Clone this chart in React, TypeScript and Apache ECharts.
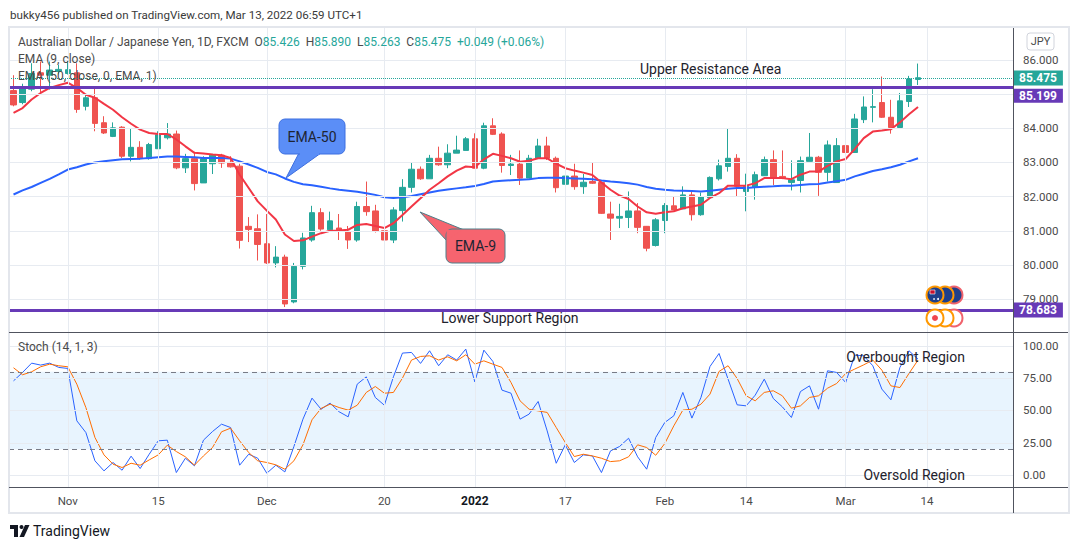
import React, { useEffect, useRef } from "react";
import * as echarts from "echarts";

const FONT = 'Roboto, "Noto Sans", "DejaVu Sans", sans-serif';

// ---------- data ----------
const OPEN = [85.10,84.75,85.14,85.62,85.55,85.66,85.60,85.62,84.64,84.89,84.16,83.76,84.03,83.18,83.44,83.11,83.40,83.72,83.83,82.84,83.11,82.40,82.96,83.21,83.00,82.89,81.13,81.06,80.62,80.06,80.23,78.92,79.96,80.73,81.53,81.03,81.08,80.98,80.73,81.71,81.58,81.00,80.73,81.59,82.27,82.80,82.52,83.12,82.93,83.27,83.35,83.69,82.83,84.07,83.83,82.91,82.95,82.54,83.12,83.48,83.12,82.36,82.60,82.29,82.44,82.41,81.49,81.37,81.39,81.58,81.13,80.57,81.30,81.73,81.64,82.05,81.47,81.97,82.52,82.88,83.12,82.15,82.27,82.61,83.08,82.59,82.41,82.47,83.03,83.15,82.71,82.41,83.49,83.29,84.25,84.61,84.75,84.32,84.02,84.78,85.426];
const HIGH = [85.55,85.30,85.90,85.95,85.95,85.85,85.96,85.90,85.00,85.20,84.35,84.17,84.06,83.99,83.62,83.57,83.91,84.15,83.93,83.25,83.31,83.18,83.25,83.25,83.18,82.96,81.40,81.48,81.49,80.55,80.30,80.06,80.94,81.73,81.66,81.56,81.49,81.14,81.85,82.44,81.76,81.03,81.69,82.51,82.99,82.88,83.22,83.46,83.53,83.78,83.74,83.85,84.16,84.29,83.88,83.22,83.35,83.22,83.69,83.75,83.17,82.63,82.96,82.66,82.99,82.43,81.85,81.79,82.15,81.81,81.14,81.37,81.81,82.00,82.30,82.17,82.12,82.59,83.08,84.00,83.24,82.67,82.73,83.17,83.35,83.35,83.06,83.17,83.86,83.19,83.64,83.71,83.88,84.42,84.93,85.14,85.51,84.83,85.03,85.53,85.890];
const LOW = [84.64,84.70,85.08,85.00,85.13,85.57,85.57,84.45,84.52,83.91,83.83,83.74,83.13,83.03,83.08,83.08,83.40,83.67,82.80,82.69,82.18,82.40,82.66,82.84,82.85,80.48,80.67,80.13,80.03,79.93,78.77,78.88,79.87,80.68,81.00,80.98,80.73,80.47,80.68,81.44,80.95,80.30,80.64,81.27,82.12,82.49,82.52,82.90,82.83,83.27,83.35,82.83,82.80,83.80,82.70,82.63,82.34,82.54,83.12,83.07,82.12,82.31,82.20,82.08,82.37,81.49,80.73,81.08,81.08,80.93,80.40,80.54,80.93,81.60,81.64,81.30,81.44,81.97,82.47,82.73,82.00,81.57,81.91,82.61,82.34,82.51,82.18,82.12,83.03,82.02,82.44,82.41,83.10,83.29,84.15,84.17,84.30,83.84,84.00,84.62,85.263];
const CLOSE = [84.68,85.15,85.60,85.55,85.70,85.72,85.71,84.55,84.89,84.14,83.86,84.01,83.18,83.44,83.11,83.52,83.81,83.83,82.84,83.11,82.38,83.11,83.21,82.98,82.87,80.72,81.04,80.60,80.06,80.23,78.86,79.96,80.79,81.53,81.05,81.29,80.98,80.73,81.71,81.56,80.98,80.73,81.61,82.27,82.80,82.52,83.12,82.93,83.27,83.36,83.69,82.83,84.07,83.82,82.91,82.95,82.54,83.12,83.48,83.12,82.26,82.60,82.29,82.42,82.39,81.51,81.37,81.42,81.58,81.10,80.49,81.32,81.74,81.61,82.05,81.47,82.00,82.56,82.90,83.12,82.30,82.30,82.64,83.08,82.54,82.53,82.49,83.05,83.15,82.71,83.51,83.49,83.29,84.27,84.62,84.63,84.32,84.02,84.80,85.44,85.475];
const EMA9 = [84.45,84.59,84.84,85.03,85.18,85.26,85.33,85.18,84.98,84.89,84.71,84.54,84.32,84.13,83.96,83.86,83.83,83.83,83.67,83.47,83.28,83.26,83.23,83.21,83.13,82.64,82.25,81.86,81.59,81.33,80.89,80.70,80.72,80.83,80.93,81.00,81.01,81.03,81.17,81.20,81.14,81.08,81.22,81.46,81.71,81.95,82.20,82.39,82.59,82.76,82.88,82.86,83.09,83.25,83.19,83.12,83.02,83.05,83.12,83.12,82.96,82.83,82.76,82.70,82.63,82.41,82.20,82.03,81.93,81.71,81.54,81.50,81.54,81.57,81.66,81.71,81.76,81.96,82.10,82.32,82.32,82.32,82.39,82.54,82.54,82.54,82.51,82.64,82.73,82.73,82.90,83.03,83.10,83.39,83.71,83.90,83.93,83.97,84.17,84.41,84.62];
const EMA50 = [82.06,82.18,82.28,82.40,82.52,82.65,82.79,82.86,82.94,83.00,83.03,83.06,83.09,83.10,83.11,83.13,83.15,83.17,83.17,83.16,83.15,83.13,83.13,83.13,83.11,83.03,82.94,82.84,82.72,82.65,82.53,82.43,82.36,82.33,82.29,82.24,82.20,82.17,82.14,82.10,82.05,81.98,81.96,81.98,82.02,82.07,82.12,82.17,82.21,82.24,82.27,82.31,82.37,82.44,82.46,82.48,82.49,82.51,82.54,82.55,82.55,82.54,82.53,82.52,82.51,82.47,82.44,82.42,82.39,82.35,82.28,82.23,82.20,82.18,82.17,82.16,82.15,82.17,82.20,82.23,82.25,82.25,82.27,82.29,82.30,82.32,82.32,82.34,82.36,82.37,82.41,82.45,82.49,82.59,82.67,82.75,82.80,82.86,82.93,83.03,83.12];
const STOCH_K = [73.0,79.5,86.7,85.2,86.7,83.4,82.6,42.0,32.9,11.0,3.2,9.7,3.7,14.6,5.0,16.1,26.5,27.0,1.9,13.0,7.1,27.0,33.7,39.4,36.8,7.6,16.1,13.0,1.4,7.6,2.4,22.1,43.3,59.6,51.0,55.7,49.0,45.1,70.4,76.1,60.1,54.1,76.1,94.5,95.0,86.5,96.3,84.7,93.2,89.1,97.6,72.2,96.8,88.0,65.8,63.4,43.3,47.2,57.0,34.2,9.1,23.4,9.7,15.6,14.8,1.9,18.7,22.1,28.5,14.1,4.5,29.1,40.7,45.9,64.0,44.1,60.1,84.1,94.2,74.3,54.4,53.6,61.9,74.3,59.3,52.8,44.6,64.7,69.1,51.0,80.8,79.5,71.7,92.9,92.4,84.7,66.6,58.3,83.4,96.3,89.8];
const STOCH_D = [83.1,77.7,80.0,83.9,85.9,84.7,83.9,70.4,52.3,29.1,15.6,8.4,5.8,9.1,7.6,11.7,15.6,23.1,18.2,14.1,7.6,14.8,21.3,33.5,36.3,26.5,17.4,11.0,9.7,7.9,4.5,11.0,23.4,42.8,51.6,54.9,52.3,50.3,54.1,64.0,68.6,63.4,64.0,75.1,89.1,91.9,92.4,89.1,91.6,88.5,93.2,85.9,88.5,85.9,83.4,71.7,57.5,51.0,49.7,48.5,36.8,25.2,14.3,16.1,14.8,13.0,10.4,11.0,14.1,23.4,21.3,15.3,24.4,38.1,50.3,51.0,54.9,62.7,80.3,84.7,74.8,61.4,57.5,64.0,65.3,61.4,51.8,53.6,60.1,61.4,67.3,70.9,78.7,82.1,85.4,89.1,81.3,69.1,67.8,78.7,89.1];

const PRICE_TICKS = [79, 80, 81, 82, 83, 84, 85, 86];
const STOCH_TICKS = [0, 25, 50, 75, 100];
const TICK_DATES = ["2021-11-01","2021-11-15","2021-12-01","2021-12-20","2022-01-03","2022-01-17","2022-02-01","2022-02-14","2022-03-01","2022-03-14"];
const TICK_TEXT = ["Nov","15","Dec","20","2022","17","Feb","14","Mar","14"];
const RESISTANCE = 85.199;
const SUPPORT = 78.683;
const LAST_CLOSE = CLOSE[CLOSE.length - 1];
const CHANGE = 0.049;
const CHANGE_PCT = 0.06;
const OB = 80;
const OS = 20;

// weekday dates (trading days) starting 2021-10-22, incl. future slots
function buildDates(n: number): string[] {
  const out: string[] = [];
  const d = new Date(Date.UTC(2021, 9, 22));
  while (out.length < n) {
    const wd = d.getUTCDay();
    if (wd !== 0 && wd !== 6) out.push(d.toISOString().slice(0, 10));
    d.setUTCDate(d.getUTCDate() + 1);
  }
  return out;
}
const DATES = buildDates(111);

const UP = "#26a69a";
const DOWN = "#ef5350";
const PURPLE = "#673ab7";
const GRID = "#e7ebf1";
const AXIS_TXT = "#4a4a4a";

export default function App() {
  const ref = useRef<HTMLDivElement>(null);
  useEffect(() => {
    document.body.style.margin = "0";
    const chart = echarts.init(ref.current!, undefined, { renderer: "svg" });
    const candles = OPEN.map((o, i) => [o, CLOSE[i], LOW[i], HIGH[i]]);
    const tickMap: Record<string, string> = {};
    TICK_DATES.forEach((d, i) => (tickMap[d] = TICK_TEXT[i]));
    const n = OPEN.length - 1;
    const fx = (v: number) => v.toFixed(3);

    const priceGrid = [
      ...PRICE_TICKS.map((v) => ({
        yAxis: v,
        label: { show: v !== 85, position: "end", distance: 10, formatter: fx(v), color: AXIS_TXT, fontSize: 11.5, fontFamily: FONT },
      })),
      ...TICK_DATES.map((d) => ({ xAxis: d, label: { show: false } })),
    ];
    const stochGrid = [
      ...STOCH_TICKS.map((v) => ({
        yAxis: v,
        label: { show: true, position: "end", distance: 10, formatter: v.toFixed(2), color: AXIS_TXT, fontSize: 11.5, fontFamily: FONT },
      })),
      ...TICK_DATES.map((d) => ({ xAxis: d, label: { show: false } })),
    ];

    const graphic: any[] = [
      // frame and separators
      { type: "rect", z: 100, silent: true, shape: { x: 9, y: 27, width: 1060, height: 486 }, style: { fill: "none", stroke: "#e3e6ec", lineWidth: 2 } },
      { type: "line", z: 101, silent: true, shape: { x1: 9, y1: 332.5, x2: 1068, y2: 332.5 }, style: { stroke: "#50535e", lineWidth: 1 } },
      { type: "line", z: 101, silent: true, shape: { x1: 9, y1: 487.5, x2: 1068, y2: 487.5 }, style: { stroke: "#50535e", lineWidth: 1 } },
      { type: "line", z: 101, silent: true, shape: { x1: 1013.5, y1: 28, x2: 1013.5, y2: 513 }, style: { stroke: "#50535e", lineWidth: 1 } },
      // header
      { type: "text", z: 101, x: 10, y: 15, style: { text: "bukky456 published on TradingView.com, Mar 13, 2022 06:59 UTC+1", fill: "#3a3a3a", fontSize: 11.6, fontFamily: FONT, verticalAlign: "middle" } },
      // legend
      {
        type: "text", z: 101, x: 18, y: 42,
        style: {
          text: `{n|Australian Dollar / Japanese Yen, 1D, FXCM}  {n|O}{v|${fx(OPEN[n])}}  {n|H}{v|${fx(HIGH[n])}}  {n|L}{v|${fx(LOW[n])}}  {n|C}{v|${fx(LAST_CLOSE)}}  {v|+${CHANGE.toFixed(3)} (+${CHANGE_PCT.toFixed(2)}%)}`,
          verticalAlign: "middle", fontFamily: FONT, fontSize: 12,
          rich: { n: { fill: "#4a4a4a", fontSize: 12, fontFamily: FONT }, v: { fill: UP, fontSize: 12, fontFamily: FONT } },
        },
      },
      { type: "text", z: 101, x: 18, y: 59, style: { text: "EMA (9, close)", fill: "#4a4a4a", fontSize: 12, fontFamily: FONT, verticalAlign: "middle" } },
      { type: "text", z: 101, x: 18, y: 76, style: { text: "EMA (50, close, 0, EMA, 1)", fill: "#4a4a4a", fontSize: 12, fontFamily: FONT, verticalAlign: "middle" } },
      { type: "text", z: 101, x: 18, y: 347, style: { text: "Stoch (14, 1, 3)", fill: "#4a4a4a", fontSize: 12, fontFamily: FONT, verticalAlign: "middle" } },
      // JPY box
      { type: "rect", z: 101, shape: { x: 1027, y: 33, width: 27, height: 17, r: 3 }, style: { fill: "#fff", stroke: "#d1d4dc", lineWidth: 1 } },
      { type: "text", z: 102, x: 1040.5, y: 41.5, style: { text: "JPY", fill: "#4a4a4a", fontSize: 11, fontFamily: FONT, align: "center", verticalAlign: "middle" } },
      // annotations
      { type: "text", z: 101, x: 640, y: 69, style: { text: "Upper Resistance Area", fill: "#1e222d", fontSize: 14, fontFamily: FONT, verticalAlign: "middle" } },
      { type: "text", z: 101, x: 441, y: 318, style: { text: "Lower Support Region", fill: "#1e222d", fontSize: 14, fontFamily: FONT, verticalAlign: "middle" } },
      { type: "text", z: 101, x: 965, y: 357, style: { text: "Overbought Region", fill: "#1e222d", fontSize: 14, fontFamily: FONT, align: "right", verticalAlign: "middle" } },
      { type: "text", z: 101, x: 965, y: 475, style: { text: "Oversold Region", fill: "#1e222d", fontSize: 14, fontFamily: FONT, align: "right", verticalAlign: "middle" } },
      // EMA-50 callout
      { type: "polygon", z: 110, shape: { points: [[299, 153], [321, 153], [286, 178]] }, style: { fill: "#5b8ef7", stroke: "#3d6fe0", lineWidth: 1 } },
      { type: "rect", z: 111, shape: { x: 279, y: 119, width: 66, height: 35, r: 6 }, style: { fill: "#5b8ef7", stroke: "#3d6fe0", lineWidth: 1 } },
      { type: "rect", z: 112, shape: { x: 300, y: 151, width: 19, height: 4 }, style: { fill: "#5b8ef7" } },
      { type: "text", z: 113, x: 312, y: 137, style: { text: "EMA-50", fill: "#1e2433", fontSize: 14, fontFamily: FONT, align: "center", verticalAlign: "middle" } },
      // EMA-9 callout
      { type: "polygon", z: 110, shape: { points: [[420, 212], [464, 230], [447, 241]] }, style: { fill: "#f6646f", stroke: "#4d7f8a", lineWidth: 1 } },
      { type: "rect", z: 111, shape: { x: 446, y: 229, width: 59, height: 34, r: 6 }, style: { fill: "#f6646f", stroke: "#4d7f8a", lineWidth: 1 } },
      { type: "polygon", z: 112, shape: { points: [[446.5, 230], [462, 230], [447, 240]] }, style: { fill: "#f6646f" } },
      { type: "text", z: 113, x: 475.5, y: 246, style: { text: "EMA-9", fill: "#1e2433", fontSize: 14, fontFamily: FONT, align: "center", verticalAlign: "middle" } },
      // event icons
      { type: "circle", z: 120, shape: { cx: 954, cy: 295, r: 8.5 }, style: { fill: "#1f3f8a", stroke: "#f0626c", lineWidth: 2 } },
      { type: "circle", z: 121, shape: { cx: 945, cy: 295, r: 8.5 }, style: { fill: "#1f3f8a", stroke: "#ff9800", lineWidth: 2 } },
      { type: "circle", z: 122, shape: { cx: 935, cy: 295, r: 8.5 }, style: { fill: "#1f3f8a", stroke: "#ff9800", lineWidth: 2 } },
      { type: "rect", z: 123, shape: { x: 930, y: 290, width: 5, height: 4 }, style: { fill: "#c8102e", stroke: "#fff", lineWidth: 0.6 } },
      { type: "circle", z: 123, shape: { cx: 938, cy: 299, r: 1 }, style: { fill: "#fff" } },
      { type: "circle", z: 123, shape: { cx: 934, cy: 299, r: 0.8 }, style: { fill: "#fff" } },
      { type: "circle", z: 120, shape: { cx: 954, cy: 318, r: 8.5 }, style: { fill: "#fff", stroke: "#f0626c", lineWidth: 2 } },
      { type: "circle", z: 121, shape: { cx: 945, cy: 318, r: 8.5 }, style: { fill: "#fff", stroke: "#ff9800", lineWidth: 2 } },
      { type: "circle", z: 122, shape: { cx: 935, cy: 318, r: 8.5 }, style: { fill: "#fff", stroke: "#ff9800", lineWidth: 2 } },
      { type: "circle", z: 123, shape: { cx: 935, cy: 318, r: 3 }, style: { fill: "#f0464f" } },
      // TradingView logo
      { type: "rect", z: 101, shape: { x: 10, y: 525, width: 8, height: 4 }, style: { fill: "#131722" } },
      { type: "rect", z: 101, shape: { x: 14, y: 525, width: 4, height: 12 }, style: { fill: "#131722" } },
      { type: "circle", z: 101, shape: { cx: 21.5, cy: 527, r: 2 }, style: { fill: "#131722" } },
      { type: "polygon", z: 101, shape: { points: [[25, 525], [29.5, 525], [24, 537], [19.5, 537]] }, style: { fill: "#131722" } },
      { type: "text", z: 101, x: 33, y: 531, style: { text: "TradingView", fill: "#131722", fontSize: 14, fontFamily: FONT, verticalAlign: "middle" } },
    ];

    const option: any = {
      animation: false,
      backgroundColor: "#ffffff",
      textStyle: { fontFamily: FONT },
      grid: [
        { left: 9, top: 28, width: 1004, height: 304 },
        { left: 9, top: 332, width: 1004, height: 155 },
      ],
      xAxis: [
        { type: "category", gridIndex: 0, data: DATES, boundaryGap: true, axisLine: { show: false }, axisTick: { show: false }, axisLabel: { show: false }, splitLine: { show: false } },
        {
          type: "category", gridIndex: 1, data: DATES, boundaryGap: true,
          axisLine: { show: false }, axisTick: { show: false }, splitLine: { show: false },
          axisLabel: {
            show: true,
            interval: (_i: number, v: string) => v in tickMap,
            formatter: (v: string) => (tickMap[v] === "2022" ? "{b|2022}" : tickMap[v] || ""),
            color: AXIS_TXT, fontSize: 11.5, fontFamily: FONT, margin: 8,
            rich: { b: { fontWeight: "bold", color: "#131722", fontSize: 12, fontFamily: FONT } },
          },
        },
      ],
      yAxis: [
        { type: "value", gridIndex: 0, min: 78.04, max: 86.93, position: "right", axisLabel: { show: false }, splitLine: { show: false }, axisLine: { show: false }, axisTick: { show: false } },
        { type: "value", gridIndex: 1, min: -9.3, max: 110.85, position: "right", axisLabel: { show: false }, splitLine: { show: false }, axisLine: { show: false }, axisTick: { show: false } },
      ],
      series: [
        {
          type: "line", xAxisIndex: 0, yAxisIndex: 0, data: [], z: 1, silent: true, clip: false,
          markLine: { silent: true, symbol: "none", animation: false, lineStyle: { color: GRID, width: 1, type: "solid" }, data: priceGrid },
        },
        {
          type: "line", xAxisIndex: 1, yAxisIndex: 1, data: [], z: 1, silent: true, clip: false,
          markArea: { silent: true, itemStyle: { color: "rgba(33,150,243,0.1)" }, data: [[{ yAxis: OS }, { yAxis: OB }]] },
          markLine: { silent: true, symbol: "none", animation: false, lineStyle: { color: GRID, width: 1, type: "solid" }, data: stochGrid },
        },
        {
          type: "line", xAxisIndex: 1, yAxisIndex: 1, data: [], z: 2, silent: true, clip: false,
          markLine: {
            silent: true, symbol: "none", animation: false,
            lineStyle: { color: "#787b86", width: 1, type: [5, 4] },
            label: { show: false },
            data: [{ yAxis: OB }, { yAxis: OS }],
          },
        },
        {
          type: "candlestick", xAxisIndex: 0, yAxisIndex: 0, data: candles, barWidth: 6, z: 2,
          itemStyle: { color: UP, color0: DOWN, borderColor: UP, borderColor0: DOWN, borderWidth: 1 },
        },
        { type: "line", xAxisIndex: 0, yAxisIndex: 0, data: EMA50, z: 3, symbol: "none", showSymbol: false, lineStyle: { color: "#2962ff", width: 2 } },
        { type: "line", xAxisIndex: 0, yAxisIndex: 0, data: EMA9, z: 3, symbol: "none", showSymbol: false, lineStyle: { color: "#f23645", width: 2 } },
        {
          type: "line", xAxisIndex: 0, yAxisIndex: 0, data: [], z: 5, silent: true, clip: false,
          markLine: {
            silent: true, symbol: "none", animation: false,
            data: [
              {
                yAxis: LAST_CLOSE,
                lineStyle: { color: UP, width: 1, type: "dotted" },
                label: { show: true, position: "end", distance: 0, formatter: fx(LAST_CLOSE), backgroundColor: UP, color: "#fff", fontWeight: "bold", fontSize: 12, fontFamily: FONT, lineHeight: 13, padding: [1, 6, 1, 6] },
              },
              {
                yAxis: RESISTANCE,
                lineStyle: { color: PURPLE, width: 3, type: "solid" },
                label: {
                  show: true, position: "end", distance: 0,
                  formatter: `{g|}\n{b|${fx(RESISTANCE)}}`,
                  rich: {
                    g: { height: 17, lineHeight: 17 },
                    b: { backgroundColor: PURPLE, color: "#fff", fontWeight: "bold", fontSize: 12, fontFamily: FONT, lineHeight: 13, padding: [1, 6, 1, 6] },
                  },
                },
              },
              {
                yAxis: SUPPORT,
                lineStyle: { color: PURPLE, width: 3, type: "solid" },
                label: { show: true, position: "end", distance: 0, formatter: fx(SUPPORT), backgroundColor: PURPLE, color: "#fff", fontWeight: "bold", fontSize: 12, fontFamily: FONT, lineHeight: 13, padding: [1, 6, 1, 6] },
              },
            ],
          },
        },
        { type: "line", xAxisIndex: 1, yAxisIndex: 1, data: STOCH_K, z: 3, symbol: "none", showSymbol: false, lineStyle: { color: "#2962ff", width: 1 } },
        { type: "line", xAxisIndex: 1, yAxisIndex: 1, data: STOCH_D, z: 3, symbol: "none", showSymbol: false, lineStyle: { color: "#ff6d00", width: 1 } },
      ],
      graphic,
    };
    chart.setOption(option);
    return () => chart.dispose();
  }, []);
  return <div ref={ref} style={{ width: 1079, height: 549 }} />;
}
